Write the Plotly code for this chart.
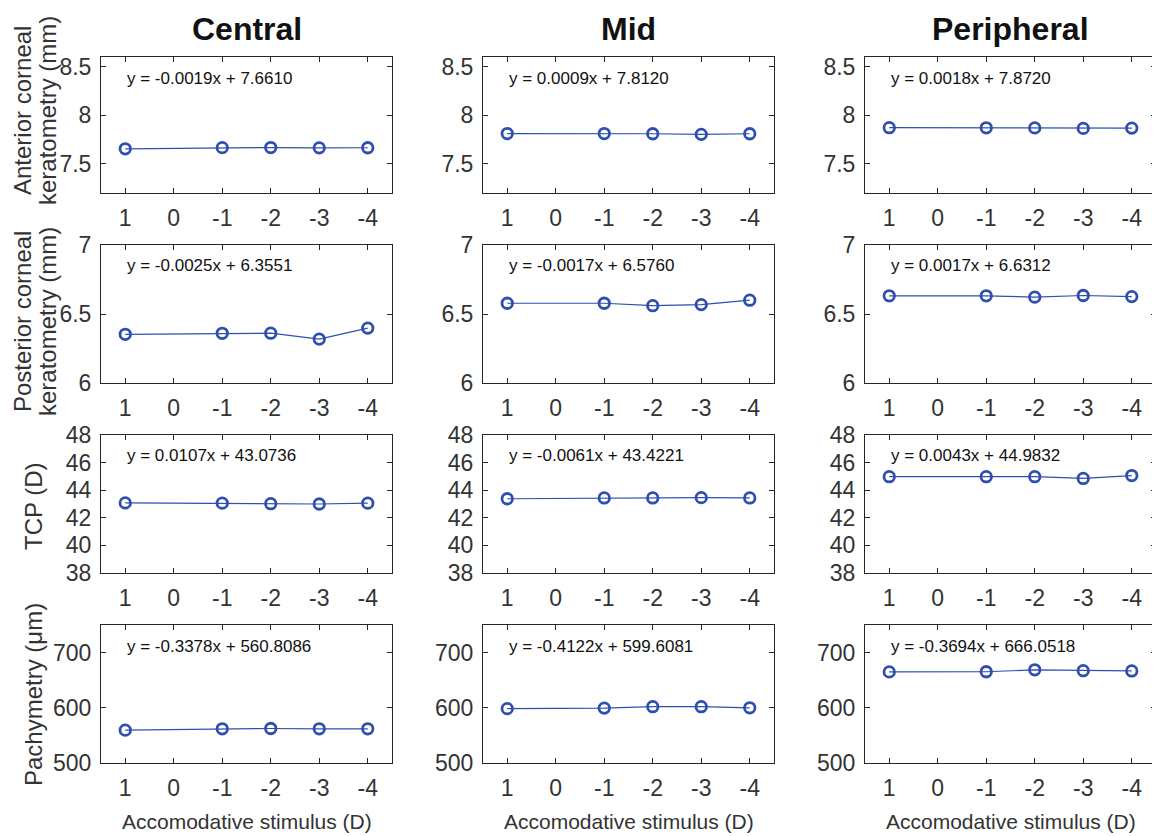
import plotly.graph_objects as go

# The page has an 8px body margin, so the figure is drawn 8px smaller and
# all pixel positions below are expressed in screenshot pixels minus OFF.
OFF = 8
W, H = 1160 - OFF, 836 - OFF

# ---------------- data ----------------
stimulus = [1, -1, -2, -3, -4]
x_ticks = [1, 0, -1, -2, -3, -4]
x_ticklabels = ["1", "0", "-1", "-2", "-3", "-4"]

columns = ["Central", "Mid", "Peripheral"]
row_labels = [
    ["Anterior corneal", "keratometry (mm)"],
    ["Posterior corneal", "keratometry (mm)"],
    ["TCP (D)"],
    ["Pachymetry (\u03bcm)"],
]
x_title = "Accomodative stimulus (D)"

# anterior corneal keratometry (mm)
ant_central = [7.655, 7.667, 7.668, 7.665, 7.666]
ant_mid = [7.812, 7.812, 7.810, 7.804, 7.810]
ant_peripheral = [7.872, 7.871, 7.870, 7.865, 7.868]
# posterior corneal keratometry (mm)
post_central = [6.353, 6.360, 6.361, 6.318, 6.398]
post_mid = [6.578, 6.578, 6.560, 6.568, 6.600]
post_peripheral = [6.632, 6.632, 6.622, 6.634, 6.626]
# TCP (D)
tcp_central = [43.08, 43.06, 43.02, 43.00, 43.06]
tcp_mid = [43.38, 43.44, 43.44, 43.46, 43.44]
tcp_peripheral = [44.98, 44.98, 44.98, 44.85, 45.06]
# Pachymetry (um)
pach_central = [559.5, 562.0, 562.5, 562.0, 562.0]
pach_mid = [598.5, 599.5, 602.0, 602.0, 600.0]
pach_peripheral = [665.0, 665.3, 668.8, 667.2, 666.8]

equations = [
    ["y = -0.0019x + 7.6610", "y = 0.0009x + 7.8120", "y = 0.0018x + 7.8720"],
    ["y = -0.0025x + 6.3551", "y = -0.0017x + 6.5760", "y = 0.0017x + 6.6312"],
    ["y = 0.0107x + 43.0736", "y = -0.0061x + 43.4221", "y = 0.0043x + 44.9832"],
    ["y = -0.3378x + 560.8086", "y = -0.4122x + 599.6081", "y = -0.3694x + 666.0518"],
]

y_ranges = [[7.2, 8.6], [6, 7], [38, 48], [500, 750]]
y_ticks = [[7.5, 8, 8.5], [6, 6.5, 7], [38, 40, 42, 44, 46, 48], [500, 600, 700]]
y_ticklabels = [["7.5", "8", "8.5"], ["6", "6.5", "7"],
                ["38", "40", "42", "44", "46", "48"], ["500", "600", "700"]]

series = [
    [ant_central, ant_mid, ant_peripheral],
    [post_central, post_mid, post_peripheral],
    [tcp_central, tcp_mid, tcp_peripheral],
    [pach_central, pach_mid, pach_peripheral],
]

# ---------------- layout geometry (screenshot pixels) ----------------
col_px = [(101, 392), (483, 774), (865, 1156)]
row_px = [(57, 193), (245, 383), (435, 573), (625, 763)]


def px_x(p):
    return (p - OFF) / W


def px_y(p):
    return 1 - (p - OFF) / H


FONT = "Liberation Sans, Arial, Helvetica, sans-serif"
TXT = "#333333"
AX = "#262626"
BLUE = "#2f4fae"

fig = go.Figure()
layout = dict(
    width=W, height=H,
    margin=dict(l=0, r=0, t=0, b=0),
    paper_bgcolor="white", plot_bgcolor="white",
    showlegend=False,
    font=dict(family=FONT, color=TXT),
)
annotations = []

for r in range(4):
    for c in range(3):
        k = r * 3 + c + 1
        xs = "" if k == 1 else str(k)
        fig.add_trace(go.Scatter(
            x=stimulus, y=series[r][c], mode="lines+markers",
            line=dict(color=BLUE, width=1.2),
            marker=dict(symbol="circle-open", size=10.5, color=BLUE,
                        line=dict(width=2.8, color=BLUE)),
            xaxis="x" + xs, yaxis="y" + xs, cliponaxis=False,
        ))
        x0, x1 = col_px[c]
        y0, y1 = row_px[r]
        layout["xaxis" + xs] = dict(
            domain=[px_x(x0), px_x(x1)], anchor="y" + xs,
            range=[1.5, -4.5], tickvals=x_ticks, ticktext=x_ticklabels,
            ticks="inside", ticklen=5, tickcolor=AX, tickwidth=1,
            showline=True, linecolor=AX, linewidth=1, mirror="ticks",
            showgrid=False, zeroline=False, automargin=False,
            tickfont=dict(size=23, color=TXT, family=FONT),
            ticklabelstandoff=4,
        )
        layout["yaxis" + xs] = dict(
            domain=[px_y(y1), px_y(y0)], anchor="x" + xs,
            range=y_ranges[r], tickvals=y_ticks[r], ticktext=y_ticklabels[r],
            ticks="inside", ticklen=5, tickcolor=AX, tickwidth=1,
            showline=True, linecolor=AX, linewidth=1, mirror="ticks",
            showgrid=False, zeroline=False, automargin=False,
            tickfont=dict(size=23, color=TXT, family=FONT),
            ticklabelstandoff=4,
        )
        annotations.append(dict(
            text=equations[r][c], x=1, y=1 - 21 / (y1 - y0),
            xref="x" + xs, yref="y" + xs + " domain",
            xanchor="left", yanchor="middle", showarrow=False,
            font=dict(size=17, color="#111111", family=FONT),
        ))

# column titles
for c, name in enumerate(columns):
    x0, x1 = col_px[c]
    annotations.append(dict(
        text="<b>" + name + "</b>", x=px_x((x0 + x1) / 2), y=px_y(29),
        xref="paper", yref="paper", xanchor="center", yanchor="middle",
        showarrow=False, font=dict(size=32, color="#111111", family=FONT),
    ))

# row labels (rotated)
label_y_center = [111, 322, 506, 695]
for r, lines in enumerate(row_labels):
    yc = label_y_center[r]
    xcs = [22, 47] if len(lines) == 2 else [33]
    for line, xc in zip(lines, xcs):
        annotations.append(dict(
            text=line, x=px_x(xc), y=px_y(yc), xref="paper", yref="paper",
            xanchor="center", yanchor="middle", textangle=-90,
            showarrow=False, font=dict(size=24, color=TXT, family=FONT),
        ))

# x-axis titles on bottom row
for c in range(3):
    x0, x1 = col_px[c]
    annotations.append(dict(
        text=x_title, x=px_x((x0 + x1) / 2), y=px_y(821),
        xref="paper", yref="paper", xanchor="center", yanchor="middle",
        showarrow=False, font=dict(size=21, color=TXT, family=FONT),
    ))

layout["annotations"] = annotations
fig.update_layout(**layout)
fig.write_html("out.html")
